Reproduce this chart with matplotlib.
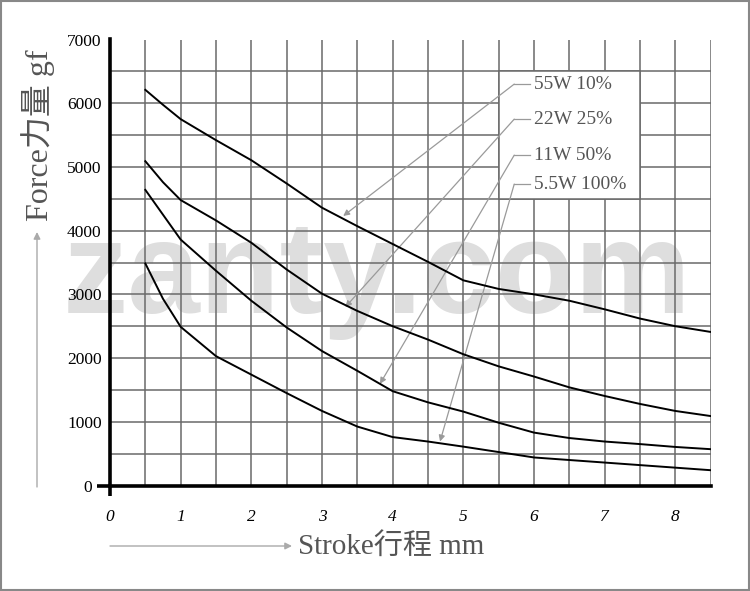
import matplotlib
matplotlib.use("Agg")
import matplotlib.pyplot as plt
from matplotlib.patches import Rectangle
from matplotlib.transforms import ScaledTranslation

# stroke positions (mm)
stroke = [0.5, 0.75, 1, 1.5, 2, 2.5, 3, 3.5, 4, 4.5, 5, 5.5, 6, 6.5, 7, 7.5, 8, 8.5]

# force (gf) per duty setting
f_55w = [6210, 5975, 5750, 5420, 5105, 4740, 4360, 4070, 3790, 3510, 3220, 3085,
         3000, 2900, 2765, 2620, 2500, 2410]
f_22w = [5090, 4760, 4480, 4160, 3810, 3390, 3010, 2740, 2500, 2290, 2060, 1870,
         1710, 1540, 1405, 1280, 1170, 1090]
f_11w = [4640, 4250, 3860, 3370, 2900, 2480, 2110, 1800, 1480, 1305, 1160, 985,
         830, 745, 690, 650, 605, 570]
f_5w = [3485, 2930, 2490, 2030, 1740, 1450, 1170, 925, 760, 690, 610, 525,
        440, 400, 360, 320, 280, 240]

labels = ["55W 10%", "22W 25%", "11W 50%", "5.5W 100%"]
label_y = [6300, 5750, 5185, 4730]
arrow_tip = [(3.30, 4230), (3.33, 2800), (3.82, 1595), (4.67, 690)]

xticks = [0, 1, 2, 3, 4, 5, 6, 7, 8]
yticks = [0, 1000, 2000, 3000, 4000, 5000, 6000, 7000]

grid_c = "#6a6a6a"
text_c = "#555555"

fig = plt.figure(figsize=(7.5, 5.91), dpi=100)
ax = fig.add_axes([110 / 750, 1 - 485.5 / 591, 600.7 / 750, 446 / 591])

ax.set_xlim(0, 8.5)
ax.set_ylim(0, 7000)
ax.set_axisbelow(True)

for v in [i * 0.5 for i in range(1, 18)]:
    ax.axvline(v, color=grid_c, lw=1.1, zorder=0.6)
for v in range(500, 7001, 500):
    ax.axhline(v, color=grid_c, lw=1.1, zorder=0.6)

ax.set_xticks(xticks)
ax.set_yticks(yticks)
ax.tick_params(length=0)
ax.tick_params(axis="y", pad=6)
ax.tick_params(axis="x", pad=17)
for t in ax.get_yticklabels():
    t.set_fontfamily("Liberation Serif")
    t.set_fontsize(12.5)
for t in ax.get_xticklabels():
    t.set_fontfamily("Liberation Serif")
    t.set_fontstyle("italic")
    t.set_fontsize(12.5)

# the "0" sits left of the little overhang tick
zero = ax.yaxis.get_major_ticks()[0].label1
zero.set_transform(zero.get_transform() + ScaledTranslation(-7 / 72, 0, fig.dpi_scale_trans))

for s in ["top", "right"]:
    ax.spines[s].set_visible(False)
ax.spines["left"].set_linewidth(2.6)
ax.spines["bottom"].set_linewidth(2.6)

# little overhangs at the origin
ax.plot([-0.19, 0], [0, 0], color="black", lw=2.6, clip_on=False, solid_capstyle="butt")
ax.plot([0, 0], [-170, 0], color="black", lw=2.6, clip_on=False, solid_capstyle="butt")

# watermark
ax.text(377 / 750, 1 - 313 / 591, "zanty.com", transform=fig.transFigure,
        fontfamily="Liberation Sans", fontweight="bold", fontsize=94,
        color="#dedede", ha="center", va="baseline", zorder=0.3, clip_on=False)

# label box
ax.add_patch(Rectangle((5.5, 4500), 2.0, 2000, facecolor="white",
                       edgecolor=grid_c, lw=1.1, zorder=1))

for ys in [f_55w, f_22w, f_11w, f_5w]:
    ax.plot(stroke, ys, color="black", lw=1.4, zorder=3, solid_joinstyle="round")

for lab, ly, tip in zip(labels, label_y, arrow_tip):
    ax.text(6.0, ly, lab, fontfamily="Liberation Serif", fontsize=14,
            color=text_c, va="center", ha="left", zorder=4)
    ax.plot([5.72, 5.95], [ly, ly], color="#9a9a9a", lw=0.9, zorder=2)
    ax.annotate("", xy=tip, xytext=(5.72, ly),
                arrowprops=dict(arrowstyle="-|>", color="#9a9a9a", lw=0.9,
                                mutation_scale=9, shrinkA=0, shrinkB=0),
                zorder=2)

# axis titles with their arrows
fig.text(298 / 750, 1 - 546 / 591, "Stroke行程 mm", fontsize=21, color=text_c,
         family=["Liberation Serif", "Noto Sans CJK SC"], ha="left", va="center")
ax.annotate("", xy=(292 / 750, 1 - 546 / 591), xytext=(110 / 750, 1 - 546 / 591),
            xycoords="figure fraction", textcoords="figure fraction",
            arrowprops=dict(arrowstyle="-|>", color="#aaaaaa", lw=1.0,
                            mutation_scale=10, shrinkA=0, shrinkB=0))

fig.text(38 / 750, 1 - 135 / 591, "Force力量 gf", fontsize=23, color=text_c,
         family=["Liberation Serif", "Noto Sans CJK SC"], rotation=90,
         ha="center", va="center")
ax.annotate("", xy=(37 / 750, 1 - 232 / 591), xytext=(37 / 750, 1 - 487 / 591),
            xycoords="figure fraction", textcoords="figure fraction",
            arrowprops=dict(arrowstyle="-|>", color="#aaaaaa", lw=1.0,
                            mutation_scale=10, shrinkA=0, shrinkB=0))

# frame round the picture
fig.patches.append(Rectangle((0.001, 0.001), 0.998, 0.998, transform=fig.transFigure,
                             fill=False, edgecolor="#888888", lw=1.5))

fig.savefig("out.png", dpi=100)
